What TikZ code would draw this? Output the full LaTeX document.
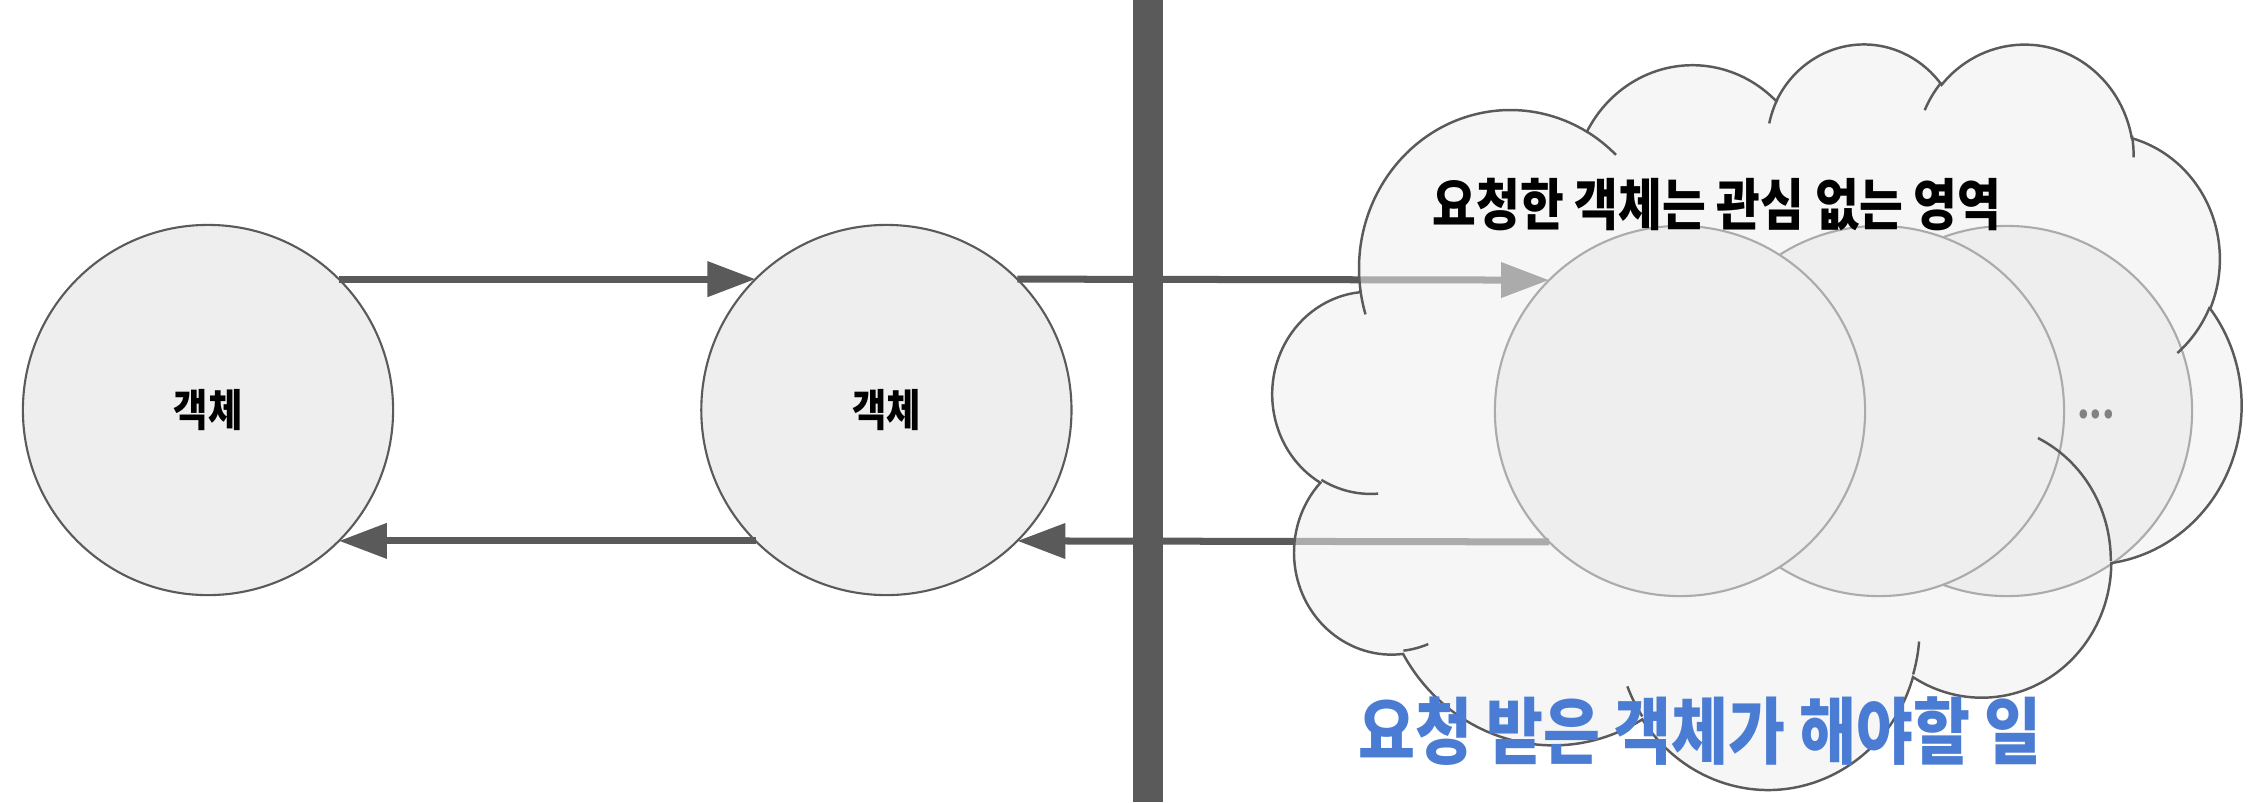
\documentclass[tikz,border=0pt]{standalone}
\usepackage{fontspec}
\usepackage{xcolor}
\usetikzlibrary{arrows.meta,positioning}
\newfontfamily\kofont[FakeStretch=0.85]{Noto Sans CJK KR}
\definecolor{linegray}{HTML}{5A5A5A}
\definecolor{objgray}{HTML}{EEEEEE}
\definecolor{askblue}{HTML}{4A7CD4}
% one bump of the cloud outline (angles as seen on the page)
\newcommand{\bump}[4]{%
  arc[x radius=#1, y radius=#2,
      start angle={atan2((#1)*sin(#3),(#2)*cos(#3))},
      delta angle={mod(atan2((#1)*sin((#3)+(#4)),(#2)*cos((#3)+(#4)))-atan2((#1)*sin(#3),(#2)*cos(#3))-(#4)+900,360)-180+(#4)}]}

\begin{document}
\begin{tikzpicture}[
  x=0.01cm, y=-0.01cm,
  obj/.style={circle, draw=linegray, fill=objgray, line width=0.6pt,
              minimum size=3.7cm, inner sep=0pt, outer sep=0pt,
              font=\kofont\bfseries\fontsize{12.5}{14}\selectfont},
  arr/.style={draw=linegray, line width=0.07cm,
              -{Triangle[length=0.48cm, width=0.34cm]}},
  cloudshape/.style={draw=linegray, line width=0.7pt, fill=objgray, fill opacity=0.55},
  rim/.style={draw=linegray, line width=0.7pt}
]
\useasboundingbox (0,0) rectangle (2268,802);

\node[obj] (L) at (208,410) {객체};
\node[obj, right=3.08cm of L] (M) {객체};

\node[obj] (C3) at (2007,411) {};
\node[obj] (C2) at (1879,411) {};
\node[obj] (C1) at (1680,411) {};
\node[font=\kofont\bfseries\fontsize{12}{14}\selectfont] (dots) at (2096,414) {...};

\fill[linegray] (1133,0) rectangle (1163,802);

\draw[arr] (L.north east) -- (M.north west);
\draw[arr] (M.south west) -- (L.south east);
\draw[arr] (M.north east) -- (C1.north west);
\draw[arr] (C1.south west) -- (M.south east);

% cloud over the receiving side
\begin{scope}[shift={(1273,42)}, x=0.022407cm, y=-0.017245cm]
  \path[cloudshape] (39.00,143.70)
    \bump{67.53}{91.90}{-190.48748}{123.78053}
    \bump{53.33}{72.67}{-144.10238}{89.94523}
    \bump{43.65}{59.45}{-145.80792}{99.72302}
    \bump{48.57}{65.95}{-130.98607}{117.24173}
    \bump{53.33}{72.73}{-78.70888}{109.02692}
    \bump{67.75}{92.20}{-46.26725}{130.269}
    \bump{57.85}{78.67}{0.62502}{114.03333}
    \bump{67.52}{92.15}{22.4516}{115.17255}
    \bump{77.20}{105.43}{66.24263}{75.71102}
    \bump{43.60}{59.18}{-274.94208}{146.73557}
    \bump{43.45}{59.45}{-246.8285}{152.51885}
    -- cycle;
  \draw[rim] (46.93,261.77) \bump{43.45}{59.45}{86.742}{26.4295};
  \draw[rim] (69.28,348.99) \bump{43.60}{59.18}{73.61047}{11.44747};
  \draw[rim] (164.78,390.90) \bump{67.52}{92.15}{137.62415}{14.0811};
  \draw[rim] (288.27,347.51) \bump{67.52}{92.15}{6.45327}{15.99835};
  \draw[rim] (341.29,229.54) \bump{57.85}{78.67}{-70.29235}{70.91737};
  \draw[rim] (417.98,153.54) \bump{53.33}{72.73}{30.31803}{27.7515};
  \draw[rim] (383.24,54.26) \bump{48.57}{65.95}{-13.74433}{14.8589};
  \draw[rim] (290.78,39.52) \bump{48.57}{65.95}{-149.18145}{18.19537};
  \draw[rim] (221.41,47.20) \bump{43.65}{59.45}{-163.49427}{17.68635};
  \draw[rim] (140.00,51.92) \bump{67.53}{91.90}{-66.70695}{12.31935};
  \draw[rim] (41.27,157.89) \bump{67.53}{91.90}{157.65435}{11.85817};
\end{scope}

\node[font=\kofont\bfseries\fontsize{15.9}{18}\selectfont] (care) at (1717,205) {요청한 객체는 관심 없는 영역};
\node[font=\kofont\bfseries\fontsize{20.7}{24}\selectfont, text=askblue] (task) at (1700,731) {요청 받은 객체가 해야할 일};
\end{tikzpicture}
\end{document}
